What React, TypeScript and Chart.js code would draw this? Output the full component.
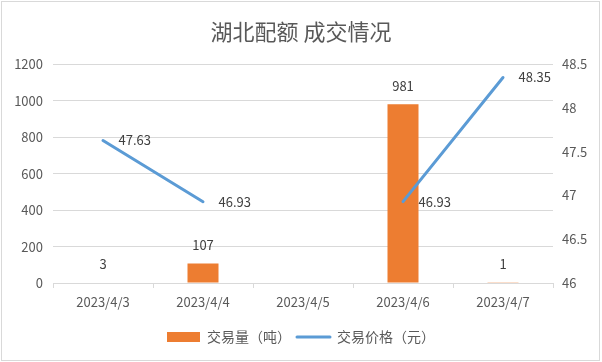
import React, { useEffect, useRef } from "react";
import { Chart, registerables } from "chart.js";

Chart.register(...registerables);

const categories = ["2023/4/3", "2023/4/4", "2023/4/5", "2023/4/6", "2023/4/7"];
const volumes: (number | null)[] = [3, 107, null, 981, 1];
const prices: (number | null)[] = [47.63, 46.93, null, 46.93, 48.35];
const titleText = "湖北配额 成交情况";
const volumeLabel = "交易量（吨）";
const priceLabel = "交易价格（元）";

const ORANGE = "#ED7D31";
const BLUE = "#5B9BD5";
const TEXT = "#595959";
const GRID = "#D9D9D9";
const FONT = '"Noto Sans CJK SC", "Noto Sans", sans-serif';

const framePlugin = {
  id: "frame",
  beforeDraw(chart: any) {
    const ctx = chart.ctx;
    ctx.save();
    ctx.fillStyle = "#ffffff";
    ctx.fillRect(0, 0, chart.width, chart.height);
    ctx.strokeStyle = GRID;
    ctx.lineWidth = 1;
    ctx.strokeRect(1.5, 1.5, 598, 359);
    ctx.restore();
  },
};

const dataLabelPlugin = {
  id: "dataLabels",
  afterDatasetsDraw(chart: any) {
    const ctx = chart.ctx;
    ctx.save();
    ctx.font = "13px " + FONT;
    ctx.fillStyle = "#404040";
    ctx.textBaseline = "middle";
    chart.data.datasets.forEach((ds: any, i: number) => {
      const meta = chart.getDatasetMeta(i);
      meta.data.forEach((el: any, j: number) => {
        const v = ds.data[j];
        if (v == null || !isFinite(el.x) || !isFinite(el.y)) return;
        if (meta.type === "bar") {
          ctx.textAlign = "center";
          ctx.fillText(String(v), el.x, el.y - 18.5);
        } else {
          ctx.textAlign = "left";
          ctx.fillText(Number(v).toFixed(2), el.x + 15.5, el.y);
        }
      });
    });
    ctx.restore();
  },
};

export default function App() {
  const ref = useRef<HTMLCanvasElement | null>(null);

  useEffect(() => {
    document.body.style.margin = "0";
    if (!ref.current) return;
    Chart.defaults.font.family = FONT;
    const chart = new Chart(ref.current, {
      type: "bar",
      data: {
        labels: categories,
        datasets: [
          {
            type: "bar",
            label: volumeLabel,
            data: volumes,
            backgroundColor: ORANGE,
            borderWidth: 0,
            barPercentage: 0.31,
            categoryPercentage: 1.0,
            yAxisID: "y",
            order: 1,
          } as any,
          {
            type: "line",
            label: priceLabel,
            data: prices,
            borderColor: BLUE,
            backgroundColor: BLUE,
            borderWidth: 3,
            borderCapStyle: "round",
            pointRadius: 0,
            pointHoverRadius: 0,
            spanGaps: false,
            tension: 0,
            yAxisID: "y1",
            order: 0,
          } as any,
        ],
      },
      options: {
        animation: false,
        responsive: false,
        devicePixelRatio: 1,
        layout: { padding: { left: 0, right: 0, top: 0, bottom: 8 } },
        scales: {
          x: {
            offset: true,
            grid: {
              offset: true,
              drawOnChartArea: false,
              drawTicks: true,
              tickLength: 5,
              color: GRID,
            },
            border: { display: true, color: GRID },
            ticks: { color: TEXT, font: { size: 13 }, padding: 6, maxRotation: 0 },
            afterFit: (s: any) => {
              s.height = 41;
            },
          },
          y: {
            position: "left",
            min: 0,
            max: 1200,
            ticks: {
              stepSize: 200,
              color: TEXT,
              font: { size: 13 },
              padding: 10,
              callback: (v: any) => String(v),
            },
            grid: { color: GRID, drawTicks: false },
            border: { display: false },
            afterFit: (s: any) => {
              s.width = 53;
            },
          },
          y1: {
            position: "right",
            min: 46,
            max: 48.5,
            ticks: {
              stepSize: 0.5,
              color: TEXT,
              font: { size: 13 },
              padding: 9,
              callback: (v: any) => String(v),
            },
            grid: { display: false, drawOnChartArea: false, drawTicks: false },
            border: { display: false },
            afterFit: (s: any) => {
              s.width = 49;
            },
          },
        },
        plugins: {
          title: {
            display: true,
            text: titleText,
            color: TEXT,
            font: { size: 22, weight: "normal" as any, family: FONT },
            padding: { top: 18, bottom: 20 },
          },
          legend: {
            position: "bottom",
            labels: {
              usePointStyle: true,
              pointStyleWidth: 33,
              boxHeight: 10,
              color: TEXT,
              font: { size: 14 },
              padding: 6,
              generateLabels: (c: any) => [
                {
                  text: c.data.datasets[0].label,
                  fillStyle: ORANGE,
                  strokeStyle: ORANGE,
                  lineWidth: 0,
                  pointStyle: "rect",
                  datasetIndex: 0,
                  hidden: false,
                  fontColor: TEXT,
                },
                {
                  text: c.data.datasets[1].label,
                  fillStyle: BLUE,
                  strokeStyle: BLUE,
                  lineWidth: 3,
                  lineCap: "round",
                  pointStyle: "line",
                  datasetIndex: 1,
                  hidden: false,
                  fontColor: TEXT,
                },
              ],
            },
          },
          tooltip: { enabled: false },
        },
      },
      plugins: [framePlugin, dataLabelPlugin],
    });
    return () => chart.destroy();
  }, []);

  return (
    <div style={{ width: 602, height: 362 }}>
      <canvas ref={ref} width={602} height={362} style={{ display: "block" }} />
    </div>
  );
}
